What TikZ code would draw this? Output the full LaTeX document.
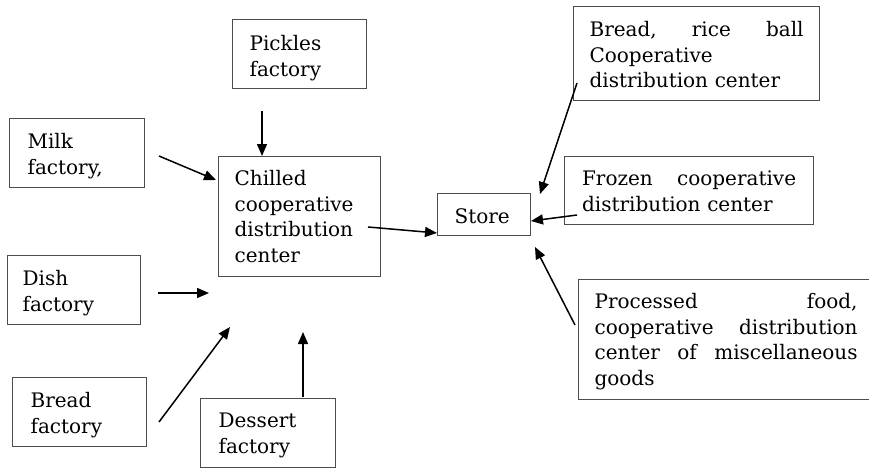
\documentclass[tikz,border=0pt]{standalone}
\usepackage{fontspec}
\setmainfont{DejaVu Serif}
\usetikzlibrary{arrows.meta}

% one line stretched to the full text width (justified)
\newcommand{\spreadline}[1]{\leavevmode\hbox to \hsize{#1}}

\begin{document}
\begin{tikzpicture}[
  x=1pt, y=-1pt,
  textbox/.style={draw=black!70, line width=1.2pt, anchor=north west,
    inner ysep=0pt, align=left,
    font=\fontsize{20}{25.5}\selectfont},
  flow/.style={line width=1.5pt, -{Triangle[length=12pt,width=10pt]}}
]
\useasboundingbox (0,0) rectangle (869,468);

% factories
\node[textbox, inner xsep=17pt, text width=100pt, text height=31pt, text depth=38pt]
  (pickles) at (232,19) {Pickles\\factory};
\node[textbox, inner xsep=18pt, text width=99pt, text height=30pt, text depth=39pt]
  (milk) at (9,118) {Milk\\factory,};
\node[textbox, inner xsep=15pt, text width=103pt, text height=30pt, text depth=39pt]
  (dish) at (7,255) {Dish\\factory};
\node[textbox, inner xsep=18pt, text width=98pt, text height=30pt, text depth=39pt]
  (breadf) at (12,377) {Bread\\factory};
\node[textbox, inner xsep=18pt, text width=99pt, text height=29pt, text depth=40pt]
  (dessert) at (200,398) {Dessert\\factory};

% chilled distribution center
\node[textbox, inner xsep=16pt, text width=130pt, text height=29pt, text depth=91pt]
  (chilled) at (218,156) {Chilled\\cooperative\\distribution\\center};

% store
\node[textbox, inner xsep=17pt, text width=59pt, text height=30pt, text depth=12pt]
  (store) at (437,193) {Store};

% other distribution centers
\node[textbox, inner xsep=16pt, text width=214pt, text height=30pt, text depth=64pt]
  (breadrice) at (573,6) {\spreadline{Bread,\hfill rice\hfill ball}\\Cooperative\\distribution center};
\node[textbox, inner xsep=17.5pt, text width=214pt, text height=29pt, text depth=39pt]
  (frozen) at (564,156) {\spreadline{Frozen\hfill cooperative}\\distribution center};
\node[textbox, inner xsep=16pt, text width=263pt, text height=29pt, text depth=91pt]
  (processed) at (578,279) {\spreadline{Processed\hfill food,}\\\spreadline{cooperative\hfill distribution}\\\spreadline{center\hfill of\hfill miscellaneous}\\goods};

% arrow end points
\coordinate (pk-a) at (262,111);  \coordinate (pk-b) at (262,156);
\coordinate (mk-a) at (159,156);  \coordinate (mk-b) at (216,180);
\coordinate (ds-a) at (158,293);  \coordinate (ds-b) at (209,293);
\coordinate (bf-a) at (159,422);  \coordinate (bf-b) at (230,327);
\coordinate (dt-a) at (303,397);  \coordinate (dt-b) at (303,332);
\coordinate (ch-a) at (368,227);  \coordinate (ch-b) at (437,233);
\coordinate (br-a) at (577,83);   \coordinate (br-b) at (540,194);
\coordinate (fz-a) at (577,215);  \coordinate (fz-b) at (531,221);
\coordinate (pr-a) at (575,325);  \coordinate (pr-b) at (535,247);

% flows
\draw[flow] (pk-a) -- (pk-b);
\draw[flow] (mk-a) -- (mk-b);
\draw[flow] (ds-a) -- (ds-b);
\draw[flow] (bf-a) -- (bf-b);
\draw[flow] (dt-a) -- (dt-b);
\draw[flow] (ch-a) -- (ch-b);
\draw[flow] (br-a) -- (br-b);
\draw[flow] (fz-a) -- (fz-b);
\draw[flow] (pr-a) -- (pr-b);
\end{tikzpicture}
\end{document}
